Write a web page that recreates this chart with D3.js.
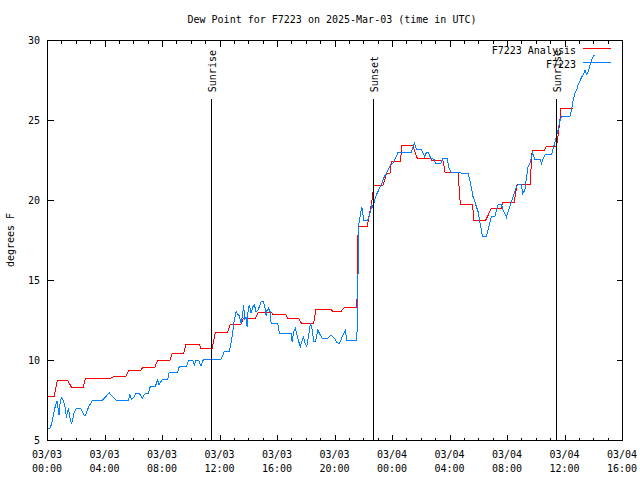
<!DOCTYPE html>
<html><head><meta charset="utf-8">
<script src="https://cdn.jsdelivr.net/npm/d3@7/dist/d3.min.js"></script>
<style>
html,body{margin:0;padding:0;background:#fff;}
svg{display:block;}
text{font-family:"DejaVu Sans Mono",monospace;font-size:10px;fill:#000;}
</style></head>
<body>
<svg id="chart" width="640" height="480"></svg>
<script>
const title = "Dew Point for F7223 on 2025-Mar-03 (time in UTC)";
const yLabel = "degrees F";
const seriesNames = ["F7223 Analysis", "F7223"];
const yTicks = [5, 10, 15, 20, 25, 30];
const sunHours = [11.41, 22.71, 35.44];
const sunLabels = ["Sunrise", "Sunset", "Sunrise"];

// hours after 2025-03-03 00:00 UTC
const analysisHours = [0,0.49,0.72,1.46,1.7,2.53,2.67,4.4,4.7,5.5,5.7,6.5,6.7,7.5,7.7,8.55,8.7,9.5,9.65,10.6,10.7,11.5,11.7,12.56,12.75,13.5,13.66,14.5,14.7,15.6,15.7,16.6,16.75,17.5,17.7,18.55,18.7,19.77,19.87,20.47,20.7,21.56,21.6,21.65,22.28,22.5,22.65,22.72,23.36,23.5,23.6,23.86,23.95,24.6,24.67,25.46,25.76,26.7,26.8,27.55,27.7,28.6,28.75,29.6,29.7,30.5,30.9,31.6,31.7,32.5,32.7,33.6,33.75,34.6,34.75,35.45,35.65,35.75,36.6];
const analysisValues = [7.7,7.7,8.7,8.7,8.3,8.3,8.85,8.85,9.0,9.0,9.35,9.35,9.55,9.55,10.0,10.0,10.4,10.4,10.95,10.95,10.75,10.75,11.7,11.7,12.25,12.25,12.6,12.6,13.0,13.0,12.85,12.85,12.6,12.6,12.3,12.3,13.15,13.15,13.05,13.05,13.3,13.3,16.5,18.35,18.35,19.45,20.2,20.9,20.9,21.25,21.65,21.65,22.4,22.4,23.4,23.4,22.6,22.6,22.45,22.45,21.7,21.7,19.75,19.75,18.7,18.7,19.45,19.45,19.85,19.85,20.95,20.95,23.1,23.1,23.35,23.35,24.7,25.7,25.7];

const obsHours = [0.02,0.21,0.33,0.49,0.6,0.72,0.79,0.84,0.91,1.0,1.11,1.23,1.3,1.35,1.42,1.49,1.58,1.7,1.77,1.88,2.04,2.35,2.46,2.58,2.7,2.81,2.93,3.04,3.16,3.86,4.09,4.32,4.55,4.79,5.67,5.76,5.9,6.06,6.18,6.41,6.64,6.76,6.88,7.06,7.18,7.53,7.69,7.8,7.92,8.04,8.39,8.5,9.08,9.2,9.71,9.85,10.13,10.24,10.36,10.54,10.71,10.82,10.94,12.1,12.22,12.33,12.68,12.8,12.91,13.03,13.15,13.26,13.38,13.5,13.61,13.68,13.75,13.85,13.92,13.99,14.08,14.2,14.31,14.43,14.54,14.66,14.77,14.89,15.05,15.17,15.24,15.31,15.4,15.52,15.59,16.05,16.17,16.98,17.05,17.16,17.28,17.4,17.51,17.63,17.72,17.84,17.96,18.07,18.21,18.33,18.45,18.56,18.68,18.84,18.95,19.14,19.53,19.77,20.0,20.12,20.3,20.4,20.58,20.75,20.86,21.55,21.6,21.65,21.67,21.76,21.9,21.97,22.04,22.28,22.37,22.51,22.6,22.67,22.79,22.91,23.07,23.25,23.41,23.6,23.83,24.06,24.3,24.41,25.34,25.46,25.57,25.69,26.04,26.15,26.27,26.39,26.55,26.69,26.92,27.02,27.39,27.55,27.85,27.94,28.08,28.17,29.29,29.41,29.53,29.64,29.76,29.87,29.99,30.1,30.22,30.29,30.57,30.68,30.8,30.92,31.15,31.27,31.38,31.62,31.73,31.85,31.96,32.08,32.2,32.31,32.43,32.54,32.66,32.77,33.01,33.08,33.24,33.36,33.47,33.59,33.71,33.78,33.94,34.29,34.4,34.52,34.63,35.1,35.21,35.33,35.45,35.56,35.68,35.8,36.38,36.5,36.61,36.73,36.84,36.95,37.07,37.19,37.3,37.42,37.54,37.65,37.77,37.89,38.0,38.07];
const obsValues = [5.73,5.73,6.04,6.77,7.19,7.46,6.77,6.56,7.29,7.67,7.5,7.19,6.88,6.35,6.77,6.98,6.46,6.0,6.25,6.67,6.98,6.98,6.77,6.56,6.56,6.88,7.13,7.29,7.5,7.5,7.71,7.96,7.71,7.5,7.5,7.81,7.54,7.71,7.92,7.92,7.6,7.81,7.92,7.92,8.33,8.33,8.75,8.44,8.65,8.79,8.79,9.21,9.21,9.58,9.58,10.0,10.0,9.69,10.0,10.0,9.63,9.94,10.04,10.04,10.25,10.52,10.56,11.04,11.67,12.5,13.02,12.88,12.75,12.3,12.81,13.44,12.5,12.71,12.08,13.12,13.44,12.92,13.33,13.44,13.02,13.1,13.33,13.65,13.65,13.23,12.75,13.12,13.23,13.02,12.3,12.3,11.67,11.67,11.15,11.77,11.98,11.56,11.15,10.83,11.15,11.42,11.04,10.83,11.56,12.3,11.87,11.15,11.15,11.87,11.67,11.35,11.35,11.56,11.35,11.15,11.0,11.15,11.56,11.83,11.19,11.19,12.92,16.35,18.33,18.85,19.58,19.17,18.71,18.71,18.9,19.27,19.69,19.5,20.0,20.31,20.62,20.94,21.35,21.67,22.08,22.29,22.71,22.96,22.96,23.33,23.54,23.17,23.17,22.96,22.71,22.96,22.96,22.6,22.55,22.29,22.29,22.6,22.6,22.08,21.77,21.71,21.67,21.25,20.73,20.2,19.9,19.58,19.27,18.65,18.12,17.71,17.71,18.12,18.54,18.96,18.96,19.37,19.69,19.69,19.37,19.17,18.92,19.27,19.58,19.9,20.2,20.52,20.83,20.94,20.94,20.37,20.62,21.46,22.08,22.29,22.71,22.96,22.54,22.54,22.29,22.6,22.81,22.85,23.2,23.6,24.0,24.4,24.95,25.25,25.25,25.7,26.3,26.67,26.87,27.19,27.4,27.7,27.81,28.12,27.85,28.0,28.44,28.75,28.96,29.06];

const base = Date.UTC(2025, 2, 3, 0, 0);
const toDate = h => new Date(base + h * 3600000);

const svg = d3.select("#chart");
const L = 47, R = 622, T = 40, B = 440;

const x = d3.scaleUtc().domain([toDate(0), toDate(40)]).range([L, R]);
const y = d3.scaleLinear().domain([5, 30]).range([B, T]);

const g = svg.append("g").attr("shape-rendering", "crispEdges");

// data lines
const line = d3.line().x(d => x(d[0])).y(d => y(d[1]));
const aData = analysisHours.map((h, i) => [toDate(h), analysisValues[i]]);
const oData = obsHours.map((h, i) => [toDate(h), obsValues[i]]);

g.append("path").datum(aData).attr("d", line)
  .attr("fill", "none").attr("stroke", "#ff0000").attr("stroke-width", 1);
g.append("path").datum(oData).attr("d", line)
  .attr("fill", "none").attr("stroke", "#0080ff").attr("stroke-width", 1);

// sunrise / sunset lines
sunHours.forEach((h, i) => {
  const xx = Math.round(x(toDate(h))) + 0.5;
  g.append("line").attr("x1", xx).attr("x2", xx).attr("y1", y(26.3)).attr("y2", B)
    .attr("stroke", "#000").attr("stroke-width", 1);
  svg.append("text").attr("transform", `translate(${xx + 4},${y(26.3) - 7}) rotate(-90)`)
    .attr("text-anchor", "start").text(sunLabels[i]);
});

// frame
g.append("rect").attr("x", L + 0.5).attr("y", T + 0.5).attr("width", R - L).attr("height", B - T)
  .attr("fill", "none").attr("stroke", "#000").attr("stroke-width", 1);

// x axis ticks (major every 4h, minor every 1h), bottom and top, inward
const majorTicks = d3.utcHour.range(toDate(0), toDate(40.01), 4);
const minorTicks = d3.utcHour.range(toDate(0), toDate(40.01), 1);
const xAxisB = d3.axisBottom(x).tickValues(majorTicks).tickSizeInner(-6).tickSizeOuter(0).tickFormat("");
const xAxisBm = d3.axisBottom(x).tickValues(minorTicks).tickSizeInner(-3).tickSizeOuter(0).tickFormat("");
const xAxisT = d3.axisTop(x).tickValues(majorTicks).tickSizeInner(-6).tickSizeOuter(0).tickFormat("");
const xAxisTm = d3.axisTop(x).tickValues(minorTicks).tickSizeInner(-3).tickSizeOuter(0).tickFormat("");
[[xAxisB, B], [xAxisBm, B], [xAxisT, T], [xAxisTm, T]].forEach(([ax, yy]) => {
  const a = g.append("g").attr("transform", `translate(0,${yy + 0.5})`).call(ax);
  a.select(".domain").remove();
  a.selectAll("line").attr("stroke", "#000");
});

// x tick labels (two lines)
const fDate = d3.utcFormat("%m/%d"), fTime = d3.utcFormat("%H:%M");
majorTicks.forEach(t => {
  const tx = svg.append("text").attr("x", x(t)).attr("y", 458).attr("text-anchor", "middle");
  tx.append("tspan").attr("x", x(t)).text(fDate(t));
  tx.append("tspan").attr("x", x(t)).attr("dy", 14).text(fTime(t));
});

// y axis ticks left and right
const yAxisL = d3.axisLeft(y).tickValues(yTicks).tickSizeInner(-6).tickSizeOuter(0).tickFormat("");
const yAxisR = d3.axisRight(y).tickValues(yTicks).tickSizeInner(-6).tickSizeOuter(0).tickFormat("");
[[yAxisL, L], [yAxisR, R]].forEach(([ax, xx]) => {
  const a = g.append("g").attr("transform", `translate(${xx + 0.5},0)`).call(ax);
  a.select(".domain").remove();
  a.selectAll("line").attr("stroke", "#000");
});
yTicks.forEach(v => {
  svg.append("text").attr("x", 40).attr("y", y(v)).attr("dy", "0.35em")
    .attr("text-anchor", "end").text(v);
});

// title & y label
svg.append("text").attr("x", 332).attr("y", 23).attr("text-anchor", "middle").text(title);
svg.append("text").attr("transform", `translate(14,240) rotate(-90)`)
  .attr("text-anchor", "middle").text(yLabel);

// legend
const legColors = ["#ff0000", "#0080ff"];
seriesNames.forEach((n, i) => {
  const ly = 48 + i * 14;
  svg.append("text").attr("x", 576).attr("y", ly + 2).attr("dy", "0.35em")
    .attr("text-anchor", "end").text(n);
  g.append("line").attr("x1", 583).attr("x2", 611).attr("y1", ly + 0.5).attr("y2", ly + 0.5)
    .attr("stroke", legColors[i]).attr("stroke-width", 1);
});
</script>
</body></html>
